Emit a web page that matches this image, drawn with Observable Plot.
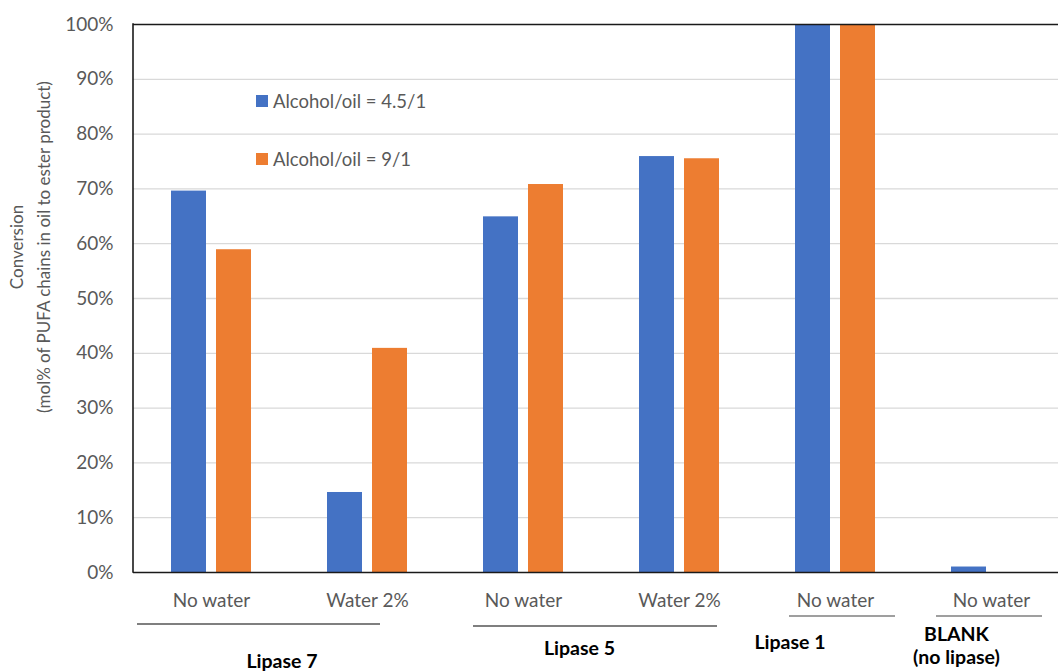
<!DOCTYPE html>
<html>
<head>
<meta charset="utf-8">
<script src="https://cdn.jsdelivr.net/npm/d3@7"></script>
<script src="https://cdn.jsdelivr.net/npm/@observablehq/plot@0.6"></script>
<style>
  html, body { margin: 0; padding: 0; background: #fff; overflow: hidden; }
  #chart svg { display: block; }
</style>
</head>
<body>
<div id="chart"></div>
<script>
// Reaction conditions, one slot per cluster of bars
const conditions = ["No water", "Water 2%", "No water", "Water 2%", "No water", "No water"];
const lipases = ["Lipase 7", "Lipase 7", "Lipase 5", "Lipase 5", "Lipase 1", "BLANK"];
const series = ["Alcohol/oil = 4.5/1", "Alcohol/oil = 9/1"];
// Conversion, mol% of PUFA chains in oil turned into ester product
const ratio45 = [69.6, 14.6, 64.9, 75.9, 100, 1.0];
const ratio9 = [58.9, 40.9, 70.8, 75.5, 100, 0];
const yTicks = [0, 10, 20, 30, 40, 50, 60, 70, 80, 90, 100];
const groupNames = ["Lipase 7", "Lipase 5", "Lipase 1", "BLANK"];
const groupTitles = [
  ["Lipase 7"],
  ["Lipase 5"],
  ["Lipase 1"],
  ["BLANK", "(no lipase)"]
];

const rows = conditions.flatMap((c, i) => [
  {slot: i, condition: c, lipase: lipases[i], series: series[0], value: ratio45[i]},
  {slot: i, condition: c, lipase: lipases[i], series: series[1], value: ratio9[i]}
]);

const COLORS = ["#4472C4", "#ED7D31"];
const FONT = "Lato, 'Noto Sans', sans-serif";

const plot = Plot.plot({
  width: 1069,
  height: 671,
  marginLeft: 132,
  marginRight: 0,
  marginTop: 24,
  marginBottom: 99,
  style: {fontFamily: FONT, fontSize: "19px", color: "#595959", background: "#fff", overflow: "visible", maxWidth: "none"},
  fx: {domain: d3.range(conditions.length), padding: 0, axis: "bottom", tickFormat: i => conditions[i], tickSize: 0, tickPadding: 21, label: null},
  x: {domain: series, axis: null, paddingInner: 0.222, paddingOuter: 0.844},
  y: {domain: [0, 100], ticks: yTicks, tickFormat: d => d + "%", tickSize: 0, tickPadding: 20, label: null},
  color: {domain: series, range: COLORS},
  marks: [
    Plot.ruleY(yTicks.slice(1, -1), {stroke: "#d9d9d9", strokeWidth: 1.3}),
    Plot.barY(rows, {fx: "slot", x: "series", y: "value", fill: "series"}),
    Plot.ruleY([0, 100], {stroke: "#1a1a1a", strokeWidth: 1.6})
  ]
});

document.getElementById("chart").appendChild(plot);

const svg = d3.select(plot);
const fxS = plot.scale("fx");
const yS = plot.scale("y");
const bw = fxS.bandwidth;
const left = fxS.apply(0);
const base = yS.apply(0);
const top100 = yS.apply(100);

// left edge of the plot frame
svg.append("line")
  .attr("x1", left).attr("x2", left)
  .attr("y1", top100 - 0.8).attr("y2", base + 0.8)
  .attr("stroke", "#1a1a1a").attr("stroke-width", 1.6);

// vertical axis title, two lines
const title = svg.append("text")
  .attr("transform", `translate(0, 247) rotate(-90)`)
  .attr("text-anchor", "middle")
  .attr("font-family", FONT)
  .attr("font-size", 17)
  .attr("fill", "#595959");
title.append("tspan").attr("x", 0).attr("y", 23).text("Conversion");
title.append("tspan").attr("x", 0).attr("y", 50).text("(mol% of PUFA chains in oil to ester product)");

// legend inside the plot area
const legend = svg.append("g")
  .attr("font-family", FONT).attr("font-size", 18.5)
  .attr("fill", "#595959").attr("text-anchor", "start");
series.forEach((s, i) => {
  const cy = 101 + i * 58;
  legend.append("rect").attr("x", 256).attr("y", cy - 6).attr("width", 12).attr("height", 12)
    .attr("fill", plot.scale("color").apply(s));
  legend.append("text").attr("x", 273).attr("y", cy).attr("dy", "0.36em").text(s);
});

// lipase group brackets and labels under the condition labels
const groupStyle = [
  {dl: 4, dr: -65, lineDy: 52, stroke: "#000", width: 1.1, labelDx: -7, labelDy: [96]},
  {dl: 28, dr: -40, lineDy: 54, stroke: "#000", width: 1.1, labelDx: -21.5, labelDy: [83]},
  {dl: 32, dr: -18, lineDy: 44, stroke: "#7f7f7f", width: 1.6, labelDx: -45, labelDy: [77]},
  {dl: 23, dr: -27, lineDy: 44, stroke: "#7f7f7f", width: 1.6, labelDx: -34.5, labelDy: [69, 92]}
];
groupNames.forEach((g, gi) => {
  const slots = d3.range(conditions.length).filter(i => lipases[i] === g);
  const x0 = fxS.apply(d3.min(slots));
  const x1 = fxS.apply(d3.max(slots)) + bw;
  const st = groupStyle[gi];
  svg.append("line")
    .attr("x1", x0 + st.dl).attr("x2", x1 + st.dr)
    .attr("y1", base + st.lineDy).attr("y2", base + st.lineDy)
    .attr("stroke", st.stroke).attr("stroke-width", st.width);
  groupTitles[gi].forEach((t, li) => {
    svg.append("text")
      .attr("x", (x0 + x1) / 2 + st.labelDx)
      .attr("y", base + st.labelDy[li])
      .attr("text-anchor", "middle")
      .attr("font-family", FONT)
      .attr("font-size", 19.5)
      .attr("font-weight", "bold")
      .attr("fill", "#000")
      .text(t);
  });
});
</script>
</body>
</html>
